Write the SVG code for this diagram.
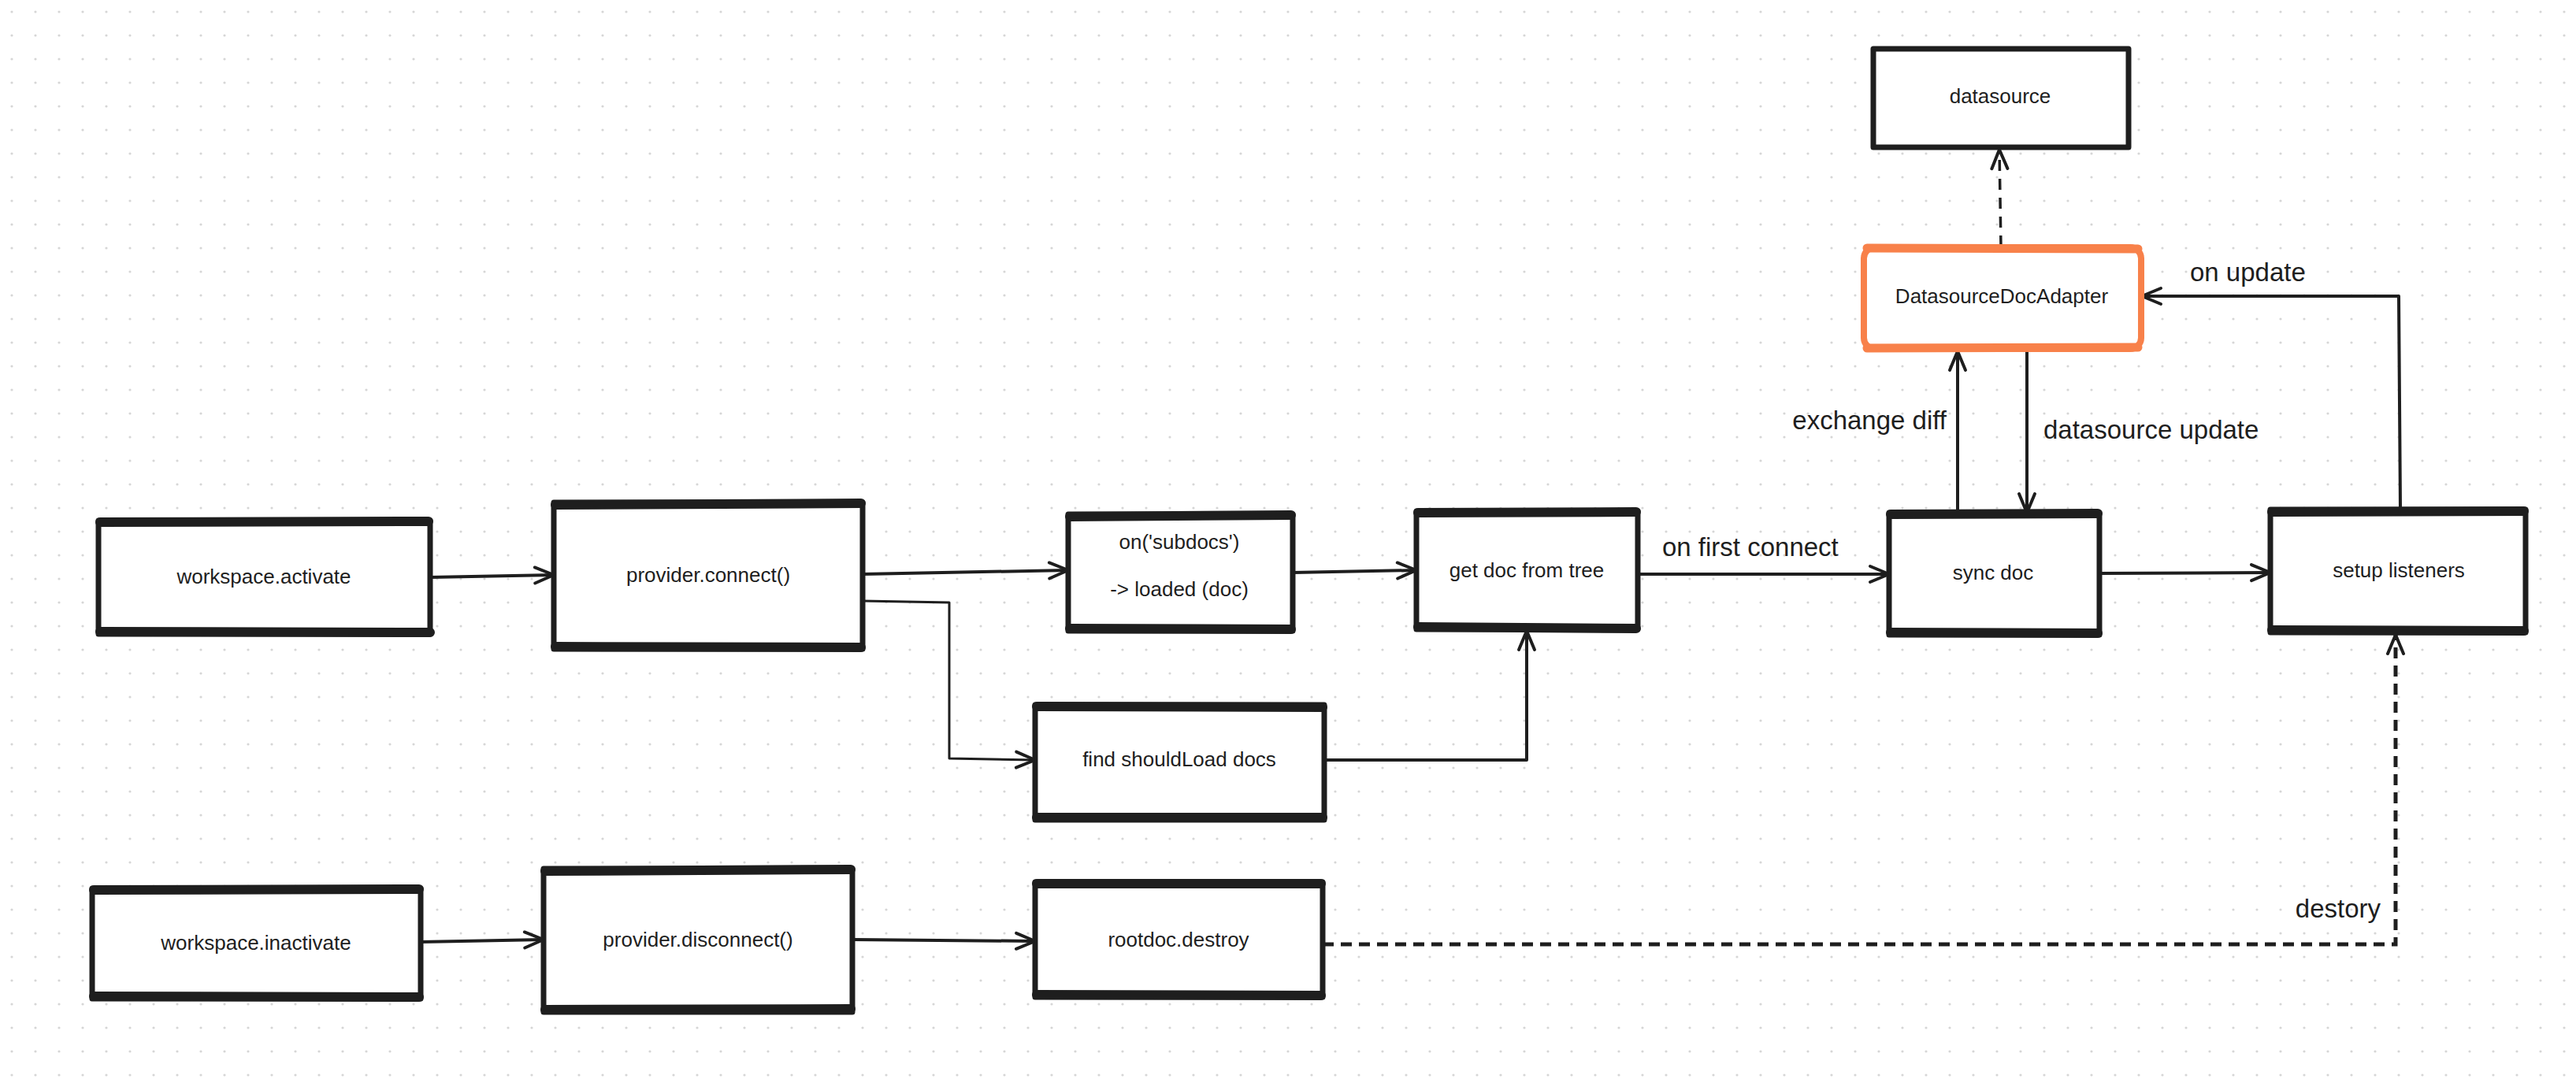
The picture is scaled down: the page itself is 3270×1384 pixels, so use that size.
<svg xmlns="http://www.w3.org/2000/svg" width="3270" height="1384" viewBox="0 0 3270 1384">
<defs>
<pattern id="grid" x="0" y="0" width="30" height="30" patternUnits="userSpaceOnUse">
<circle cx="15" cy="15" r="1.6" fill="#d6d6d6"/>
</pattern>
<marker id="arr" markerUnits="userSpaceOnUse" markerWidth="40" markerHeight="40" viewBox="-30 -20 40 40" refX="0" refY="0" orient="auto" overflow="visible">
<path d="M-24,-10 L0,0 L-24,10" fill="none" stroke="#1e1e1e" stroke-width="4" stroke-linecap="round" stroke-linejoin="round"/>
</marker>
</defs>
<style>
.box{fill:#ffffff;stroke:#1e1e1e;stroke-width:7;stroke-linejoin:round}
.edge{stroke:#1e1e1e;stroke-width:12;stroke-linecap:round}
.orange{fill:#ffffff;stroke:#f8814a;stroke-width:8}
.lbl{font-family:"Liberation Sans",Arial,sans-serif;font-size:26px;fill:#1e1e1e;text-anchor:middle;dominant-baseline:central}
.elbl{font-family:"Liberation Sans",Arial,sans-serif;font-size:33px;fill:#1e1e1e}
.c{fill:none;stroke:#1e1e1e;stroke-width:4;stroke-linecap:round;stroke-linejoin:round}
.thin{fill:none;stroke:#1e1e1e;stroke-width:3;stroke-linejoin:round}
.dash{fill:none;stroke:#1e1e1e;stroke-width:5;stroke-dasharray:14 9}
.dashs{fill:none;stroke:#1e1e1e;stroke-width:3.5;stroke-dasharray:14 10}
</style>
<rect width="3270" height="1384" fill="#ffffff"/>
<rect width="3270" height="1384" fill="url(#grid)"/>

<g id="connectors">
<path class="c" d="M546,733 L703,730" marker-end="url(#arr)"/>
<path class="c" d="M1095,729 L1356,724" marker-end="url(#arr)"/>
<path class="thin" d="M1095,763 L1205,765 L1205,963 L1314,965" marker-end="url(#arr)"/>
<path class="c" d="M1641,727 L1798,724" marker-end="url(#arr)"/>
<path class="c" d="M1681,965 L1938,965 L1938,801" marker-end="url(#arr)"/>
<path class="c" d="M2079,729 L2398,729" marker-end="url(#arr)"/>
<path class="c" d="M2663,728 L2882,727" marker-end="url(#arr)"/>
<path class="c" d="M2485,651 L2485,446" marker-end="url(#arr)"/>
<path class="c" d="M2573,446 L2573,651" marker-end="url(#arr)"/>
<path class="c" d="M3047,645 L3045,376 L2719,376" marker-end="url(#arr)"/>
<path class="dashs" d="M2540,313 L2538,190" marker-end="url(#arr)"/>
<path class="c" d="M534,1196 L690,1193" marker-end="url(#arr)"/>
<path class="c" d="M1082,1193 L1314,1195" marker-end="url(#arr)"/>
<path class="dash" d="M1679,1199 L3041,1199 L3041,806" marker-end="url(#arr)"/>
<text class="elbl" x="2110" y="706">on first connect</text>
<text class="elbl" x="2471" y="545" text-anchor="end">exchange diff</text>
<text class="elbl" x="2594" y="557">datasource update</text>
<text class="elbl" x="2780" y="357">on update</text>
<text class="elbl" x="3022" y="1165" text-anchor="end">destory</text>
</g>

<g id="workspace-activate">
<rect class="box" x="125" y="661" width="421" height="144"/>
<path class="edge" d="M127,663 L544,662 M127,802 L546,803"/>
<text class="lbl" x="335" y="732">workspace.activate</text>
</g>
<g id="provider-connect">
<rect class="box" x="703" y="638" width="392" height="186"/>
<path class="edge" d="M705,641 L1093,639 M705,821 L1093,822"/>
<text class="lbl" x="899" y="730">provider.connect()</text>
</g>
<g id="on-subdocs">
<rect class="box" x="1356" y="653" width="285" height="148"/>
<path class="edge" d="M1358,656 L1639,654 M1358,798 L1639,799"/>
<text class="lbl" x="1497" y="688">on('subdocs')</text>
<text class="lbl" x="1497" y="748">-&gt; loaded (doc)</text>
</g>
<g id="get-doc-from-tree">
<rect class="box" x="1798" y="649" width="281" height="150"/>
<path class="edge" d="M1800,651 L2077,650 M1800,796 L2077,798"/>
<text class="lbl" x="1938" y="724">get doc from tree</text>
</g>
<g id="find-shouldload-docs">
<rect class="box" x="1314" y="895" width="367" height="146"/>
<path class="edge" d="M1316,897 L1679,898 M1316,1038 L1679,1038"/>
<text class="lbl" x="1497" y="964">find shouldLoad docs</text>
</g>
<g id="sync-doc">
<rect class="box" x="2398" y="651" width="267" height="155"/>
<path class="edge" d="M2400,653 L2663,652 M2400,803 L2663,804"/>
<text class="lbl" x="2530" y="727">sync doc</text>
</g>
<g id="setup-listeners">
<rect class="box" x="2882" y="647" width="324" height="156"/>
<path class="edge" d="M2884,650 L3204,649 M2884,800 L3204,801"/>
<text class="lbl" x="3045" y="724">setup listeners</text>
</g>
<g id="datasourcedocadapter">
<rect class="orange" x="2366" y="314" width="352" height="129" rx="14"/>
<path d="M2370,315 L2714,316 M2370,442 L2714,441" fill="none" stroke="#f8814a" stroke-width="11" stroke-linecap="round"/>
<text class="lbl" x="2541" y="376">DatasourceDocAdapter</text>
</g>
<g id="datasource">
<rect class="box" x="2378" y="62" width="324" height="125"/>
<text class="lbl" x="2539" y="122">datasource</text>
</g>
<g id="workspace-inactivate">
<rect class="box" x="117" y="1128" width="417" height="140"/>
<path class="edge" d="M119,1130 L532,1129 M119,1265 L532,1266"/>
<text class="lbl" x="325" y="1197">workspace.inactivate</text>
</g>
<g id="provider-disconnect">
<rect class="box" x="690" y="1103" width="392" height="182"/>
<path class="edge" d="M692,1106 L1080,1104 M692,1282 L1080,1281"/>
<text class="lbl" x="886" y="1193">provider.disconnect()</text>
</g>
<g id="rootdoc-destroy">
<rect class="box" x="1314" y="1120" width="365" height="146"/>
<path class="edge" d="M1316,1122 L1677,1122 M1316,1263 L1677,1264"/>
<text class="lbl" x="1496" y="1193">rootdoc.destroy</text>
</g>
</svg>
